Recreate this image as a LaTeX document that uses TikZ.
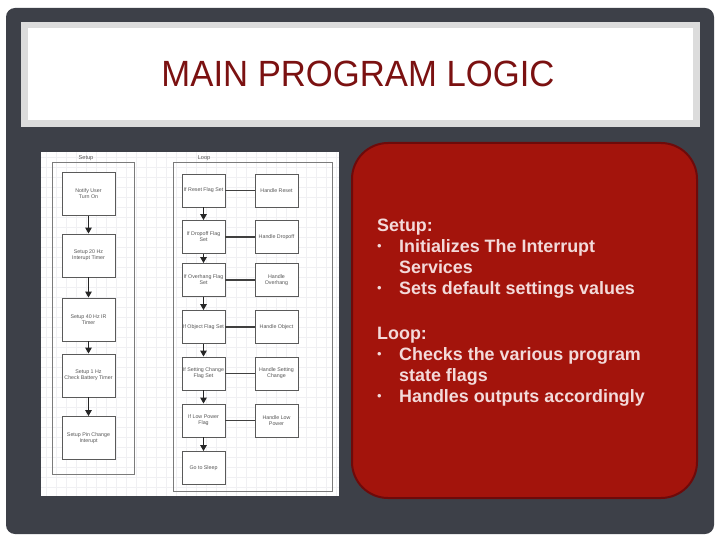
\documentclass[tikz,border=0pt]{standalone}
\usepackage{fontspec}
\setmainfont{Liberation Sans}
\usetikzlibrary{arrows.meta}
\definecolor{slate}{HTML}{3D4048}
\definecolor{titlered}{HTML}{7B1111}
\definecolor{boxred}{HTML}{A3140C}
\definecolor{boxedge}{HTML}{6E0A0A}
\definecolor{pinkwhite}{HTML}{F3DADA}
\definecolor{framegrey}{HTML}{DCDCDC}
\definecolor{gridc}{HTML}{F0F0F3}
\definecolor{boxline}{HTML}{5A5A5A}
\definecolor{boxtext}{HTML}{555555}
\tikzset{
  setupbox/.style={draw=boxline, line width=0.9pt, fill=white, minimum width=53pt, minimum height=43pt, inner sep=1pt, align=center, font=\fontsize{5.3}{6}\selectfont, text=boxtext},
  loopbox/.style={draw=boxline, line width=0.9pt, fill=white, minimum width=43pt, minimum height=33pt, inner sep=1pt, align=center, font=\fontsize{5.3}{6}\selectfont, text=boxtext},
  flowarrow/.style={-{Triangle[length=6pt,width=6.5pt]}, line width=1.2pt, draw=black!85},
  link/.style={line width=1.3pt, draw=black!75},
  container/.style={draw=boxline!80, line width=0.8pt},
  lbl/.style={font=\fontsize{5.6}{6}\selectfont, text=boxtext},
  bodytext/.style={anchor=base west, inner sep=0pt, font=\fontsize{17.9}{20}\selectfont\bfseries, text=pinkwhite},
  bullettext/.style={anchor=base west, inner sep=0pt, font=\fontsize{13}{14}\selectfont, text=pinkwhite},
}
\begin{document}
\begin{tikzpicture}[x=1pt,y=-1pt]
\useasboundingbox (0,0) rectangle (720,540);
\fill[white] (0,0) rectangle (720,540);
\fill[slate, rounded corners=9pt] (6,8) rectangle (714,534);
% title frame
\fill[framegrey] (21,22) rectangle (700,127);
\fill[white] (28,28) rectangle (693,120);
\node[text=titlered, font=\fontsize{36.5}{38}\selectfont, xscale=0.95] (title) at (358,74) {MAIN PROGRAM LOGIC};
% diagram image area
\fill[white] (41,152) rectangle (339,496);
\foreach \gx in {46,56,...,336} \draw[gridc, line width=0.4pt] (\gx,152) -- (\gx,496);
\foreach \gy in {157,167,...,494} \draw[gridc, line width=0.4pt] (41,\gy) -- (339,\gy);
% containers
\draw[container] (52,162) rectangle (134,474);
\draw[container] (173,162) rectangle (332,491);
\node[lbl] (setuplbl) at (86,158) {Setup};
\node[lbl] (looplbl) at (204,158) {Loop};
% setup column
\node[setupbox] (s1) at (88.5,194) {Notify User\\Turn On};
\node[setupbox] (s2) at (88.5,255.5) {Setup 20 Hz\\Interupt Timer};
\node[setupbox] (s3) at (88.5,319.5) {Setup 40 Hz IR\\Timer};
\node[setupbox] (s4) at (88.5,375.5) {Setup 1 Hz\\Check Battery Timer};
\node[setupbox] (s5) at (88.5,438) {Setup Pin Change\\Interupt};
\draw[flowarrow] (s1) -- (s2);
\draw[flowarrow] (s2) -- (s3);
\draw[flowarrow] (s3) -- (s4);
\draw[flowarrow] (s4) -- (s5);
% loop column
\node[loopbox] (l1) at (203.5,190.5) {If Reset Flag Set};
\node[loopbox] (l2) at (203.5,237) {If Dropoff Flag\\Set};
\node[loopbox] (l3) at (203.5,280) {If Overhang Flag\\Set};
\node[loopbox] (l4) at (203.5,327) {If Object Flag Set};
\node[loopbox] (l5) at (203.5,373.5) {If Setting Change\\Flag Set};
\node[loopbox] (l6) at (203.5,420.5) {If Low Power\\Flag};
\node[loopbox] (l7) at (203.5,468) {Go to Sleep};
\node[loopbox] (h1) at (276.5,190.5) {Handle Reset};
\node[loopbox] (h2) at (276.5,237) {Handle Dropoff};
\node[loopbox] (h3) at (276.5,280) {Handle\\Overhang};
\node[loopbox] (h4) at (276.5,327) {Handle Object};
\node[loopbox] (h5) at (276.5,373.5) {Handle Setting\\Change};
\node[loopbox] (h6) at (276.5,420.5) {Handle Low\\Power};
\foreach \a/\b in {l1/l2,l2/l3,l3/l4,l4/l5,l5/l6,l6/l7} \draw[flowarrow] (\a) -- (\b);
\foreach \i in {1,...,6} \draw[link] (l\i) -- (h\i);
% red text panel
\draw[boxedge, line width=2pt, fill=boxred, rounded corners=36pt] (352,143) rectangle (697,498);
\node[bodytext] (t1) at (377,231) {Setup:};
\node[bullettext] (b1) at (377,250.5) {•};
\node[bodytext] (t2) at (399,252) {Initializes The Interrupt};
\node[bodytext] (t3) at (399,273) {Services};
\node[bullettext] (b2) at (377,292.5) {•};
\node[bodytext] (t4) at (399,294) {Sets default settings values};
\node[bodytext] (t5) at (377,339) {Loop:};
\node[bullettext] (b3) at (377,358.5) {•};
\node[bodytext] (t6) at (399,360) {Checks the various program};
\node[bodytext] (t7) at (399,381) {state flags};
\node[bullettext] (b4) at (377,400.5) {•};
\node[bodytext] (t8) at (399,402) {Handles outputs accordingly};
\end{tikzpicture}
\end{document}
